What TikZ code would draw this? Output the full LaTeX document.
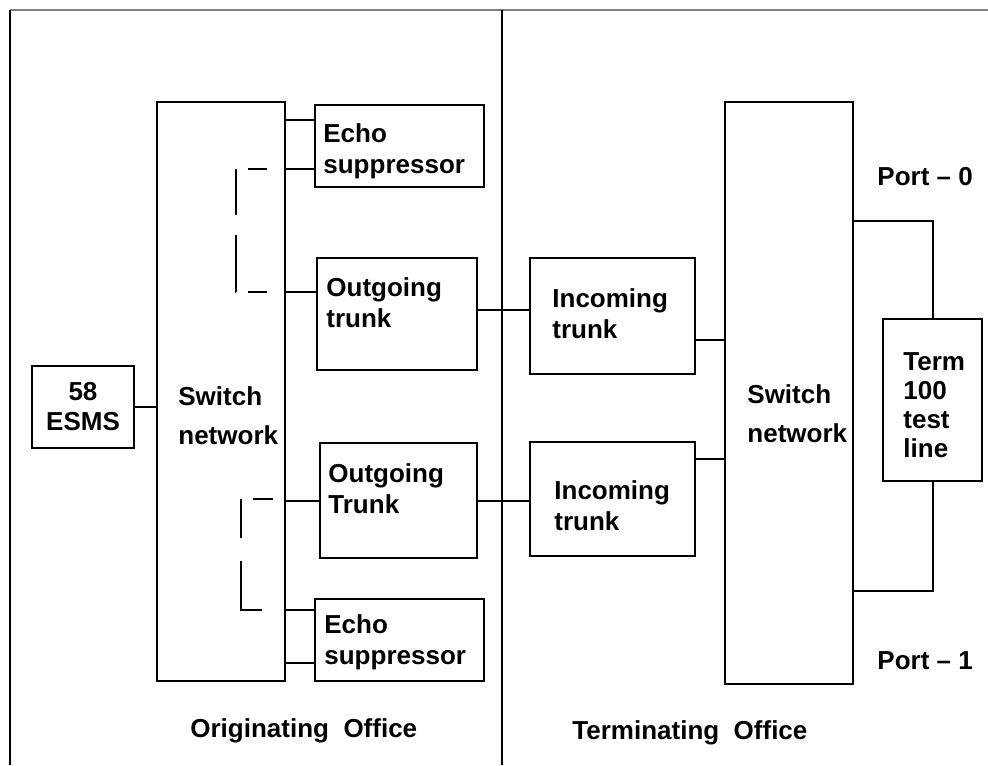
\documentclass[tikz,border=0pt]{standalone}
\usepackage{fontspec}
\setmainfont{Liberation Sans}
\usetikzlibrary{positioning,calc}

\begin{document}
\begin{tikzpicture}[
    x=0.5pt, y=-0.5pt,
    box/.style={rectangle, draw, line width=1pt, inner sep=0pt},
    txt/.style={font=\bfseries\fontsize{13}{15.5}\selectfont, align=left, inner sep=0pt, anchor=north west},
    wire/.style={draw, line width=1pt},
    dashline/.style={draw, line width=1pt}
]
\useasboundingbox (0,0) rectangle (988,765);

% Frame and office divider
\draw[gray, line width=0.75pt] (10,10) -- (988,10);
\draw[line width=0.8pt] (10,10) -- (10,765);
\draw[line width=1pt] (502,10) -- (502,765);

% Originating office
\node[box, minimum width=51pt, minimum height=41pt, align=center,
      font=\bfseries\fontsize{13}{15}\selectfont] (esms) at (83,407) {58\\ESMS};
\node[box, minimum width=64pt, minimum height=289.5pt] (swA) at (221,391.5) {};
\node[txt, font=\bfseries\fontsize{13}{19.5}\selectfont] (swA-l) at (178,386) {Switch\\network};
\node[box, minimum width=84.5pt, minimum height=41pt] (echoA) at (399.5,146) {};
\node[txt] (echoA-l) at (323,123) {Echo\\suppressor};
\node[box, minimum width=80pt, minimum height=56pt] (outA) at (397,314) {};
\node[txt] (outA-l) at (326,277) {Outgoing\\trunk};
\node[box, minimum width=78.5pt, minimum height=57.5pt] (outB) at (398.5,500.5) {};
\node[txt] (outB-l) at (328,463) {Outgoing\\Trunk};
\node[box, minimum width=84.5pt, minimum height=41pt] (echoB) at (399.5,640) {};
\node[txt] (echoB-l) at (324,614) {Echo\\suppressor};
\node[txt] (orig) at (190,718) {Originating~~Office};

% Terminating office
\node[box, minimum width=82.5pt, minimum height=58pt] (inA) at (612.5,316) {};
\node[txt] (inA-l) at (552,288) {Incoming\\trunk};
\node[box, minimum width=82.5pt, minimum height=57pt] (inB) at (612.5,499) {};
\node[txt] (inB-l) at (554,480) {Incoming\\trunk};
\node[box, minimum width=64pt, minimum height=291pt] (swB) at (789,393) {};
\node[txt, font=\bfseries\fontsize{13}{19.5}\selectfont] (swB-l) at (747,384) {Switch\\network};
\node[box, minimum width=49.5pt, minimum height=81pt] (term) at (932.5,400) {};
\node[txt, font=\bfseries\fontsize{13}{14.5}\selectfont] (term-l) at (903,352) {Term\\100\\test\\line};
\node[txt] (port0) at (877,167) {Port – 0};
\node[txt] (port1) at (877,651) {Port – 1};
\node[txt] (termo) at (572,720) {Terminating~~Office};

% Connections
\draw[wire] (esms.east) -- (esms.east -| swA.west);
\draw[wire] ([yshift=13pt]echoA.west) coordinate (e1) -- (e1 -| swA.east);
\draw[wire] ([yshift=-11.5pt]echoA.west) coordinate (e2) -- (e2 -| swA.east);
\draw[wire] ([yshift=11pt]outA.west) coordinate (o1) -- (o1 -| swA.east);
\draw[wire] (outB.west) -- (outB.west -| swA.east);
\draw[wire] ([yshift=15pt]echoB.west) coordinate (e3) -- (e3 -| swA.east);
\draw[wire] ([yshift=-11.5pt]echoB.west) coordinate (e4) -- (e4 -| swA.east);
\draw[wire] ([yshift=2pt]outA.east) coordinate (t1) -- (t1 -| inA.west);
\draw[wire] (outB.east) -- (outB.east -| inB.west);
\draw[wire] ([yshift=-12pt]inA.east) coordinate (i1) -- (i1 -| swB.west);
\draw[wire] ([yshift=20pt]inB.east) coordinate (i2) -- (i2 -| swB.west);

% Ports to test line
\draw[wire] ([yshift=86pt]swB.east) -| (term.north);
\draw[wire] (term.south) |- ([yshift=-99pt]swB.east);

% Echo suppressor bypass (dashed)
\draw[dashline, dash pattern=on 9.5pt off 6pt on 23pt off 10pt on 28.5pt off 6pt on 9.5pt]
    (267,169) -| (236,292) -- (267,292);
\draw[dashline, dash pattern=on 10pt off 6pt on 19.5pt off 11.5pt on 35pt]
    (273,499) -| (241,610) -- (262,610);

\end{tikzpicture}
\end{document}
